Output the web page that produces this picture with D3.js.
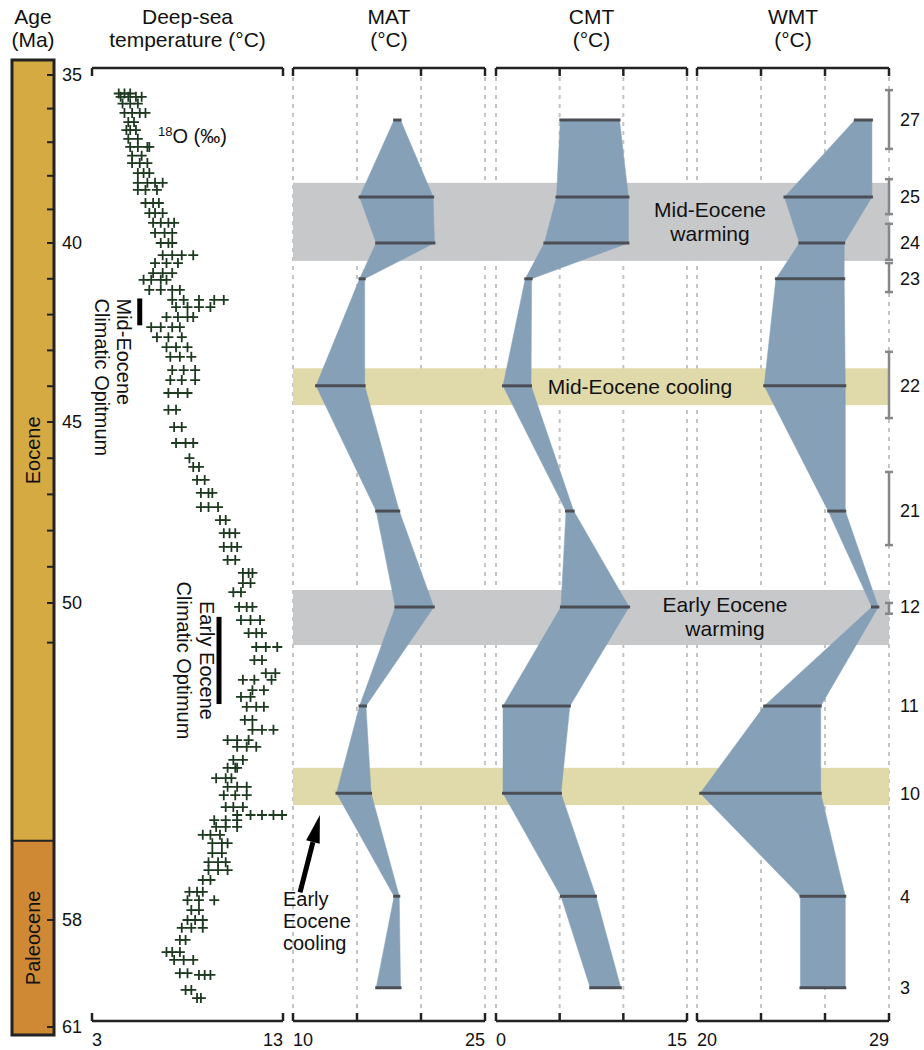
<!DOCTYPE html>
<html>
<head>
<meta charset="utf-8">
<script src="https://cdn.jsdelivr.net/npm/d3@7"></script>
<style>
  body { margin: 0; background: #fff; }
  text { font-family: "Liberation Sans", Arial, Helvetica, sans-serif; fill: #111; }
</style>
</head>
<body>
<div id="app"></div>
<script>
// age axis (Ma)
const ageTicks = [35, 40, 45, 50, 58, 61]
const ageMinor = [36, 37, 38, 39, 41, 42, 43, 44, 46, 47, 48, 49, 51]
const epochBoundary = 56

// flora sites, top to bottom
const sites = ['27', '25', '24', '23', '22', '21', '12', '11', '10', '4', '3']
const siteAge = [36.34, 38.63, 40.0, 41.0, 43.99, 47.46, 50.1, 52.6, 54.8, 57.4, 59.9]
const siteAgeErr = [[35.45, 37.2], [38.1, 39.14], [39.43, 40.47], [40.56, 41.37], [43.04, 44.89], [46.38, 48.4], [50.0, 50.27], null, null, null, null]
const matRange = [[17.9, 18.4], [15.2, 20.95], [16.5, 21.05], [15.2, 15.6], [11.8, 15.6], [16.5, 18.3], [18.0, 21.0], [15.2, 15.7], [13.4, 16.1], [17.9, 18.3], [16.5, 18.4]]
const cmtRange = [[5.05, 9.7], [4.75, 10.4], [3.8, 10.4], [2.3, 2.8], [0.55, 2.75], [5.5, 6.1], [5.1, 10.45], [0.55, 5.8], [0.55, 5.1], [5.1, 7.85], [7.4, 9.8]]
const wmtRange = [[27.4, 28.2], [24.1, 28.2], [24.8, 26.9], [23.7, 26.9], [23.15, 26.95], [26.15, 26.95], [28.2, 28.5], [23.15, 25.8], [20.15, 25.8], [24.85, 26.95], [24.85, 26.95]]

// warming / cooling intervals (Ma)
const bandLabels = [['Mid-Eocene', 'warming'], ['Mid-Eocene cooling'], ['Early Eocene', 'warming'], []]
const bandAges = [[38.21, 40.5], [43.5, 44.53], [49.64, 51.06], [54.16, 55.1]]
const bandKind = ['warm', 'cool', 'warm', 'cool']

// climatic optima bars (Ma)
const optimumAges = [[41.55, 42.3], [50.35, 52.55]]
const optimumTemp = [5.5, 9.65]

// deep-sea temperature record: [age, temps at that age]
const deepSea = [
  [35.55, [4.4, 4.7, 5.0]], [35.65, [4.5, 4.9, 5.3, 5.6]], [35.85, [4.6, 5.0, 5.4]],
  [36.13, [4.7, 5.1, 5.5, 5.8]], [36.4, [4.9, 5.2]], [36.64, [4.8, 5.0, 5.3]],
  [36.9, [4.9, 5.4]], [37.14, [5.0, 5.4, 5.9, 6.0]], [37.4, [5.1, 5.6]],
  [37.62, [5.1, 5.5, 5.9]], [37.92, [5.4, 5.7, 6.0]], [38.21, [5.4, 5.9, 6.3, 6.7]],
  [38.42, [5.4, 5.8, 6.4]], [38.81, [5.8, 6.2, 6.5]], [39.11, [6.0, 6.3, 6.7]],
  [39.4, [6.2, 6.6, 7.0, 7.3]], [39.7, [6.3, 6.8, 7.2]], [40.0, [6.6, 7.0, 7.2]],
  [40.34, [6.7, 7.2, 7.7, 8.3]], [40.56, [6.3, 6.9, 7.5]], [40.84, [6.2, 6.7, 7.2]],
  [41.03, [5.7, 6.1, 6.6, 6.9]], [41.31, [6.0, 6.6, 7.2, 7.6]], [41.59, [7.2, 7.8, 8.6, 9.4, 9.9]],
  [41.79, [7.4, 8.0, 8.6, 9.2]], [42.07, [6.9, 7.5, 8.0, 8.3]], [42.35, [6.1, 6.6, 7.2, 7.6]],
  [42.63, [6.4, 7.0, 7.7]], [42.91, [6.9, 7.4, 8.0]], [43.18, [7.1, 7.6, 8.2]],
  [43.55, [7.2, 7.8, 8.4]], [43.83, [7.1, 7.7, 8.4]], [44.19, [7.0, 7.5, 8.0]],
  [44.66, [7.0, 7.4]], [45.14, [7.3, 7.7]], [45.58, [7.4, 7.9, 8.3]], [46.0, [8.1]],
  [46.24, [8.3, 8.6]], [46.6, [8.5, 8.9]], [46.96, [8.7, 9.1, 9.3]], [47.35, [8.7, 9.1, 9.6]],
  [47.71, [9.7, 10.0]], [48.07, [9.9, 10.2, 10.5]], [48.45, [9.9, 10.3, 10.6]],
  [48.81, [10.1, 10.5]], [49.17, [10.9, 11.2, 11.4]], [49.45, [10.9, 11.3]],
  [49.7, [10.4, 10.8]], [50.1, [10.7, 11.1, 11.4]], [50.43, [10.8, 11.3, 11.8]],
  [50.76, [11.2, 11.6, 11.9]], [51.11, [11.6, 12.1, 12.7]], [51.44, [11.5, 11.9]],
  [51.77, [12.1, 12.6]], [51.94, [10.9, 11.5, 12.4]], [52.2, [11.4, 12.0]],
  [52.37, [10.8, 11.3]], [52.62, [11.1, 11.6, 12.0]], [52.95, [11.0, 11.4]],
  [53.2, [11.4, 11.9, 12.5]], [53.46, [10.1, 10.6, 11.2]], [53.63, [10.6, 11.1, 11.6]],
  [53.96, [10.4, 10.9]], [54.16, [10.1, 10.5, 10.6]], [54.42, [9.5, 10.0, 10.3]],
  [54.64, [10.1, 10.6, 11.1]], [54.85, [9.9, 10.5, 11.1]], [55.15, [10.0, 10.4, 10.9]],
  [55.35, [10.6, 11.3, 11.9, 12.5, 12.95]], [55.48, [9.4, 10.0, 10.6]], [55.65, [9.5, 10.0, 10.6]],
  [55.85, [8.8, 9.2, 9.7]], [56.06, [9.3, 9.8, 10.1]], [56.31, [9.3, 9.8]],
  [56.54, [9.1, 9.6, 10.0]], [56.74, [9.1, 9.6, 10.1]], [56.99, [8.8, 9.2]],
  [57.29, [8.1, 8.5, 8.8]], [57.5, [8.0, 8.6, 9.4]], [57.75, [8.2, 8.6]],
  [58.0, [8.0, 8.4, 8.8]], [58.22, [7.7, 8.2, 8.8]], [58.56, [7.6, 7.9]],
  [58.9, [6.9, 7.2, 7.6]], [59.12, [7.3, 7.8, 8.3]], [59.49, [7.6, 8.0]],
  [59.54, [8.6, 8.9, 9.2]], [59.96, [7.9, 8.2]], [60.19, [8.5, 8.7]]
]

const W = 924, H = 1050
const topY = 68, botY = 1021

const svg = d3.select('#app').append('svg')
  .attr('width', W)
  .attr('height', H)

const y = d3.scaleLinear().domain(ageTicks).range([75, 243, 422, 603, 920, 1027])

const xDeep = d3.scaleLinear().domain([3, 13]).range([92, 283])
const panels = [
  { name: 'MAT', x: d3.scaleLinear().domain([10, 25]).range([293, 485]), ticks: [15, 20], data: matRange },
  { name: 'CMT', x: d3.scaleLinear().domain([0, 15]).range([496, 687]), ticks: [5, 10], data: cmtRange },
  { name: 'WMT', x: d3.scaleLinear().domain([20, 29]).range([697, 889]), ticks: [23, 26], data: wmtRange }
]
const bandX0 = panels[0].x.range()[0], bandX1 = panels[2].x.range()[1]

// headers
function header(x, lines) {
  const t = svg.append('text').attr('text-anchor', 'middle').style('font-size', '21px')
  lines.forEach((l, i) => t.append('tspan').attr('x', x).attr('y', 24 + i * 23).text(l))
}
header(33, ['Age', '(Ma)'])
header((xDeep.range()[0] + xDeep.range()[1]) / 2, ['Deep-sea', 'temperature (°C)'])
panels.forEach(p => header((p.x.range()[0] + p.x.range()[1]) / 2, [p.name, '(°C)']))

// age column
const colX0 = 12, colX1 = 54
const colTop = y(35) - 15, colBot = y(61) + 8
svg.append('rect').attr('x', colX0).attr('y', colTop).attr('width', colX1 - colX0)
  .attr('height', y(epochBoundary) - colTop).attr('fill', '#d6aa42')
svg.append('rect').attr('x', colX0).attr('y', y(epochBoundary)).attr('width', colX1 - colX0)
  .attr('height', colBot - y(epochBoundary)).attr('fill', '#cf8934')
svg.append('line').attr('x1', colX0).attr('x2', colX1).attr('y1', y(epochBoundary)).attr('y2', y(epochBoundary))
  .attr('stroke', '#222').attr('stroke-width', 2)
svg.append('rect').attr('x', colX0).attr('y', colTop).attr('width', colX1 - colX0)
  .attr('height', colBot - colTop).attr('fill', 'none').attr('stroke', '#222').attr('stroke-width', 3)

svg.selectAll('.agetick').data(ageTicks.concat(ageMinor)).enter().append('line')
  .attr('x1', colX1 - 7).attr('x2', colX1).attr('y1', d => y(d)).attr('y2', d => y(d))
  .attr('stroke', '#222').attr('stroke-width', 2)
svg.selectAll('.agelab').data(ageTicks).enter().append('text')
  .attr('x', colX1 + 8).attr('y', d => y(d)).attr('dy', '0.35em')
  .style('font-size', '18px').text(d => d)

const epochLabel = (txt, a0, a1) => {
  const cy = (y(a0) + y(a1)) / 2
  svg.append('text').attr('transform', `translate(${(colX0 + colX1) / 2 + 7},${cy}) rotate(-90)`)
    .attr('text-anchor', 'middle').style('font-size', '20px').text(txt)
}
epochLabel('Eocene', y.invert(colTop), epochBoundary)
epochLabel('Paleocene', epochBoundary, y.invert(colBot))

// panel frames: top + bottom axes with inward ticks
function frame(x0, x1, tickXs) {
  [[topY, 8], [botY, -8]].forEach(([yy, dir]) => {
    svg.append('line').attr('x1', x0).attr('x2', x1).attr('y1', yy).attr('y2', yy)
      .attr('stroke', '#222').attr('stroke-width', 2.5)
    tickXs.forEach(tx => svg.append('line').attr('x1', tx).attr('x2', tx)
      .attr('y1', yy).attr('y2', yy + dir).attr('stroke', '#222').attr('stroke-width', 2.5))
  })
}
function endLabels(scale) {
  const [d0, d1] = scale.domain(), [r0, r1] = scale.range()
  svg.append('text').attr('x', r0).attr('y', botY + 25).style('font-size', '18px').text(d0)
  svg.append('text').attr('x', r1).attr('y', botY + 25).attr('text-anchor', 'end').style('font-size', '18px').text(d1)
}
frame(xDeep.range()[0], xDeep.range()[1], xDeep.range())
endLabels(xDeep)

// gridlines
panels.forEach(p => {
  const gx = [p.x.domain()[0]].concat(p.ticks, [p.x.domain()[1]])
  svg.selectAll(null).data(gx).enter().append('line')
    .attr('x1', d => p.x(d)).attr('x2', d => p.x(d)).attr('y1', topY + 9).attr('y2', botY - 9)
    .attr('stroke', '#c4c4c4').attr('stroke-width', 2).attr('stroke-dasharray', '4,5')
  frame(p.x.range()[0], p.x.range()[1], gx.map(p.x))
  endLabels(p.x)
})

// bands
svg.selectAll('.band').data(bandAges).enter().append('rect')
  .attr('x', bandX0).attr('width', bandX1 - bandX0)
  .attr('y', d => y(d[0])).attr('height', d => y(d[1]) - y(d[0]))
  .attr('fill', (d, i) => bandKind[i] === 'warm' ? '#c7c8ca' : '#e0d9a9')

// range polygons + site lines
panels.forEach(p => {
  const right = p.data.map((r, i) => [p.x(r[1]), y(siteAge[i])])
  const left = p.data.map((r, i) => [p.x(r[0]), y(siteAge[i])]).reverse()
  svg.append('path').attr('d', d3.line()(right.concat(left)) + 'Z')
    .attr('fill', '#86a0b8').attr('stroke', '#86a0b8').attr('stroke-width', 0.5)
  svg.selectAll(null).data(p.data).enter().append('line')
    .attr('x1', d => p.x(d[0]) - 1).attr('x2', d => p.x(d[1]) + 1)
    .attr('y1', (d, i) => y(siteAge[i])).attr('y2', (d, i) => y(siteAge[i]))
    .attr('stroke', '#4b4f55').attr('stroke-width', 3)
})

// band labels
const bandLabelX = [710, 640, 725, null]
bandLabels.forEach((lines, i) => {
  if (!lines.length) return
  const mid = (y(bandAges[i][0]) + y(bandAges[i][1])) / 2
  const t = svg.append('text').attr('text-anchor', 'middle').style('font-size', '21px')
  lines.forEach((l, j) => t.append('tspan').attr('x', bandLabelX[i])
    .attr('y', mid + 7 + (j - (lines.length - 1) / 2) * 24).text(l))
})

// site age error bars & labels
const errX = panels[2].x.range()[1]
siteAgeErr.forEach(e => {
  if (!e) return
  const g = svg.append('g').attr('stroke', '#85878a').attr('stroke-width', 2.5)
  g.append('line').attr('x1', errX).attr('x2', errX).attr('y1', y(e[0])).attr('y2', y(e[1]))
  e.forEach(a => g.append('line').attr('x1', errX - 4).attr('x2', errX + 4).attr('y1', y(a)).attr('y2', y(a)))
})
svg.selectAll('.site').data(sites).enter().append('text')
  .attr('x', errX + 11).attr('y', (d, i) => y(siteAge[i])).attr('dy', '0.35em')
  .style('font-size', '18px').text(d => d)

// deep-sea record
const pts = deepSea.flatMap(([a, ts]) => ts.map(t => [a, t]))
svg.append('g').selectAll('path').data(pts).enter().append('path')
  .attr('d', d => `M${xDeep(d[1]) - 5},${y(d[0])}h10M${xDeep(d[1])},${y(d[0]) - 5}v10`)
  .attr('stroke', '#1d3a20').attr('stroke-width', 1.8).attr('fill', 'none')

const o18 = svg.append('text').attr('x', 158).attr('y', 143).style('font-size', '20px')
o18.append('tspan').attr('baseline-shift', 'super').style('font-size', '13px').text('18')
o18.append('tspan').text('O (‰)')

// climatic optima
optimumAges.forEach((a, i) => {
  svg.append('line').attr('x1', xDeep(optimumTemp[i])).attr('x2', xDeep(optimumTemp[i]))
    .attr('y1', y(a[0])).attr('y2', y(a[1])).attr('stroke', '#000').attr('stroke-width', 5)
})
function vtext(x, yy, anchor, txt) {
  svg.append('text').attr('transform', `translate(${x},${yy}) rotate(90)`)
    .attr('text-anchor', anchor).style('font-size', '20px').text(txt)
}
const mY = y(optimumAges[0][0]), mX = xDeep(optimumTemp[0])
vtext(mX - 23, mY, 'start', 'Mid-Eocene')
vtext(mX - 45, mY, 'start', 'Climatic Opitmum')
const eY = (y(optimumAges[1][0]) + y(optimumAges[1][1])) / 2, eX = xDeep(optimumTemp[1])
vtext(eX - 19, eY, 'middle', 'Early Eocene')
vtext(eX - 42, eY, 'middle', 'Climatic Optimum')

// early Eocene cooling arrow
const mat = panels[0].x
const ax0 = mat(10.55), ay0 = y(57.3), ax1 = mat(12.1), ay1 = y(55.35)
const ang = Math.atan2(ay1 - ay0, ax1 - ax0)
const hl = 28, hw = 7
const bx = ax1 - hl * Math.cos(ang), by = ay1 - hl * Math.sin(ang)
svg.append('line').attr('x1', ax0).attr('y1', ay0).attr('x2', bx).attr('y2', by)
  .attr('stroke', '#000').attr('stroke-width', 5)
svg.append('path').attr('d', d3.line()([
  [ax1, ay1],
  [bx + hw * Math.sin(ang), by - hw * Math.cos(ang)],
  [bx - hw * Math.sin(ang), by + hw * Math.cos(ang)]
]) + 'Z').attr('fill', '#000')
const ec = svg.append('text').style('font-size', '20px')
;['Early', 'Eocene', 'cooling'].forEach((l, i) => ec.append('tspan').attr('x', mat(10) - 10).attr('y', y(57.65) + i * 22).text(l))
</script>
</body>
</html>
